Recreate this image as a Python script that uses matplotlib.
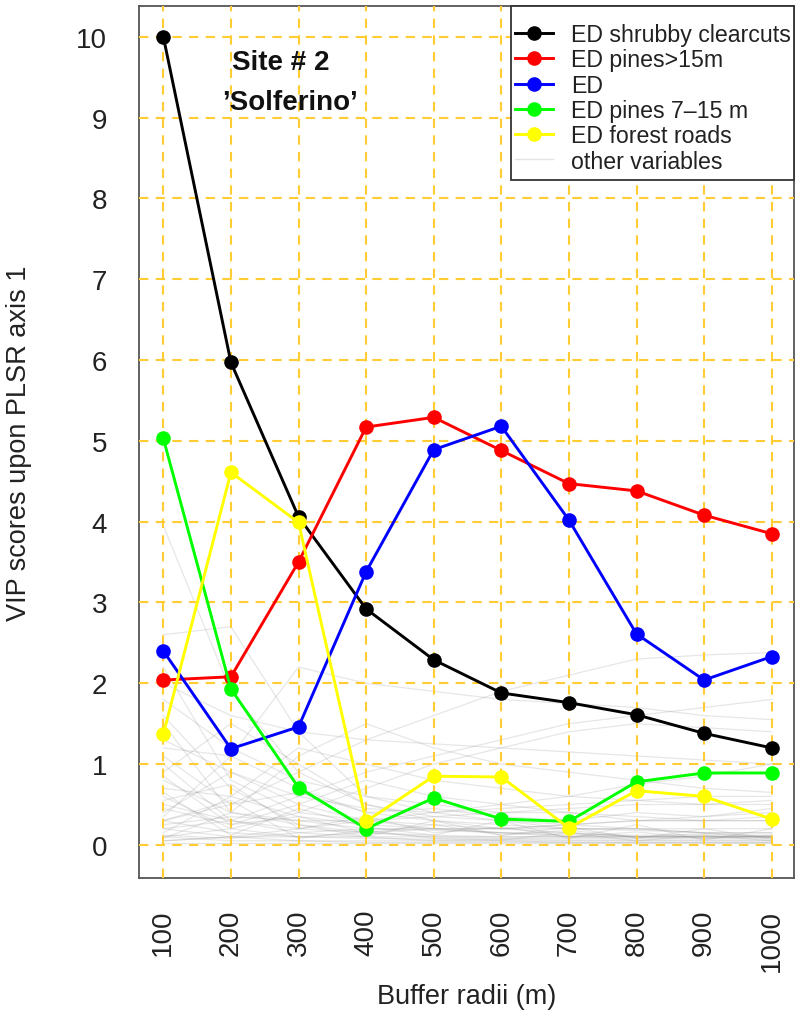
import matplotlib
matplotlib.use("Agg")
import matplotlib.pyplot as plt
from matplotlib.lines import Line2D
from matplotlib.patches import Rectangle

plt.rcParams['font.family'] = ['Liberation Sans', 'DejaVu Sans']

# buffer radii (m)
radii = [100, 200, 300, 400, 500, 600, 700, 800, 900, 1000]

# VIP scores of the highlighted variables
ed_shrubby = [10.0, 5.97, 4.06, 2.92, 2.29, 1.88, 1.76, 1.61, 1.38, 1.20]
ed_pines15 = [2.04, 2.08, 3.50, 5.17, 5.29, 4.88, 4.47, 4.38, 4.08, 3.85]
ed_total = [2.40, 1.19, 1.46, 3.38, 4.89, 5.18, 4.02, 2.61, 2.04, 2.33]
ed_pines7_15 = [5.03, 1.93, 0.71, 0.20, 0.58, 0.32, 0.29, 0.78, 0.89, 0.89]
ed_roads = [1.37, 4.61, 3.99, 0.29, 0.85, 0.84, 0.21, 0.67, 0.60, 0.32]

# VIP scores of the remaining variables (background)
other_vip = [
    [3.95, 1.90, 0.90, 0.50, 0.30, 0.20, 0.15, 0.10, 0.10, 0.10],
    [2.60, 2.70, 1.40, 0.60, 0.40, 0.30, 0.20, 0.20, 0.15, 0.10],
    [1.20, 1.10, 2.20, 2.00, 1.90, 1.80, 1.75, 1.70, 1.60, 1.55],
    [0.30, 0.50, 0.90, 1.30, 1.60, 1.90, 2.10, 2.30, 2.35, 2.38],
    [0.20, 0.30, 0.60, 0.90, 1.10, 1.30, 1.50, 1.60, 1.70, 1.80],
    [1.80, 1.20, 0.80, 0.60, 0.50, 0.40, 0.40, 0.30, 0.30, 0.30],
    [1.50, 0.40, 0.30, 0.20, 0.20, 0.15, 0.10, 0.10, 0.10, 0.10],
    [0.90, 1.50, 1.00, 0.50, 0.35, 0.30, 0.25, 0.20, 0.20, 0.20],
    [0.60, 0.20, 0.10, 0.10, 0.05, 0.05, 0.05, 0.05, 0.05, 0.05],
    [0.40, 0.90, 0.50, 0.30, 0.20, 0.20, 0.25, 0.30, 0.30, 0.35],
    [2.20, 0.80, 0.40, 0.30, 0.25, 0.20, 0.20, 0.20, 0.15, 0.15],
    [0.10, 0.20, 0.40, 0.70, 1.00, 1.20, 1.40, 1.50, 1.45, 1.40],
    [0.05, 0.10, 0.10, 0.15, 0.20, 0.20, 0.25, 0.30, 0.35, 0.40],
    [0.70, 0.60, 0.35, 0.25, 0.20, 0.15, 0.15, 0.10, 0.10, 0.10],
    [1.00, 0.30, 0.15, 0.10, 0.10, 0.10, 0.10, 0.10, 0.10, 0.10],
    [0.15, 0.60, 1.20, 1.00, 0.80, 0.70, 0.60, 0.55, 0.50, 0.50],
    [0.30, 0.15, 0.10, 0.08, 0.07, 0.07, 0.06, 0.06, 0.06, 0.06],
    [1.30, 0.90, 0.60, 0.45, 0.40, 0.45, 0.50, 0.55, 0.60, 0.60],
    [0.50, 0.30, 0.20, 0.15, 0.12, 0.10, 0.10, 0.10, 0.10, 0.10],
    [0.20, 0.10, 0.05, 0.05, 0.05, 0.05, 0.03, 0.03, 0.03, 0.03],
    [0.80, 0.40, 1.10, 1.50, 1.20, 1.00, 0.90, 0.80, 0.70, 0.65],
    [0.10, 0.05, 0.05, 0.03, 0.03, 0.03, 0.03, 0.03, 0.03, 0.03],
    [0.25, 0.35, 0.30, 0.30, 0.35, 0.40, 0.45, 0.50, 0.50, 0.55],
    [2.00, 1.60, 1.40, 1.30, 1.25, 1.20, 1.15, 1.10, 1.05, 1.00],
    [0.05, 0.10, 0.20, 0.30, 0.40, 0.50, 0.60, 0.75, 0.85, 1.00],
    [1.60, 0.70, 0.25, 0.15, 0.10, 0.08, 0.08, 0.08, 0.08, 0.08],
    [0.35, 1.10, 0.70, 0.40, 0.30, 0.25, 0.20, 0.18, 0.15, 0.15],
    [0.12, 0.08, 0.15, 0.20, 0.18, 0.15, 0.12, 0.12, 0.12, 0.12],
    [0.45, 0.25, 0.50, 0.80, 0.60, 0.50, 0.40, 0.35, 0.30, 0.30],
    [0.02, 0.02, 0.02, 0.02, 0.02, 0.02, 0.02, 0.02, 0.02, 0.02],
    [0.85, 0.25, 0.35, 0.15, 0.25, 0.12, 0.18, 0.10, 0.14, 0.09],
    [0.55, 0.75, 0.20, 0.35, 0.15, 0.22, 0.10, 0.16, 0.08, 0.12],
    [0.08, 0.40, 0.25, 0.10, 0.30, 0.12, 0.22, 0.08, 0.20, 0.07],
    [0.65, 0.12, 0.45, 0.22, 0.12, 0.30, 0.08, 0.25, 0.06, 0.20],
    [0.30, 0.55, 0.08, 0.18, 0.08, 0.06, 0.15, 0.05, 0.12, 0.05],
    [1.10, 0.50, 0.65, 0.40, 0.45, 0.35, 0.30, 0.40, 0.35, 0.45],
]

series = [
    ("ED shrubby clearcuts", ed_shrubby, "black"),
    ("ED pines>15m", ed_pines15, "#FF0000"),
    ("ED", ed_total, "#0000FF"),
    ("ED pines 7\u201315 m", ed_pines7_15, "#00FF00"),
    ("ED forest roads", ed_roads, "#FFFF00"),
]

W, H = 796, 1012
fig = plt.figure(figsize=(W / 100, H / 100), dpi=100)
ax = fig.add_axes([0.1746, 0.1314, 0.8229, 0.8617])

for vals in other_vip:
    ax.plot(radii, vals, color="#909090", alpha=0.22, lw=0.9, zorder=1)

ax.grid(True, color="#FFCC33", linestyle=(0, (4.5, 3.5)), linewidth=1.5)
ax.set_axisbelow(False)
for gl in ax.get_xgridlines() + ax.get_ygridlines():
    gl.set_zorder(2)

for name, vals, col in series:
    ax.plot(radii, vals, color=col, lw=2.1, marker="o", markersize=10.5,
            markeredgewidth=0, zorder=3)

ax.set_xlim(64, 1033)
ax.set_ylim(-0.41, 10.38)
ax.set_xticks(radii)
ax.set_yticks(range(0, 11))
ax.tick_params(axis="both", length=0, labelsize=20, colors="#222222")
ax.tick_params(axis="x", pad=22, labelrotation=90)
ax.tick_params(axis="y", pad=23)
for sp in ax.spines.values():
    sp.set_color("#555555")
    sp.set_linewidth(1.3)

ax.set_xlabel("Buffer radii (m)", fontsize=19.5, color="#222222", va="top")
ax.xaxis.set_label_coords(0.5, -0.12)
ax.set_ylabel("VIP scores upon PLSR axis 1", fontsize=19.5, color="#222222")
ax.yaxis.set_label_coords(-0.163, 0.5)

ax.text(274, 9.69, "Site # 2", fontsize=20, fontweight="bold", ha="center",
        va="center", color="#111111")
ax.text(288, 9.19, "\u2019Solferino\u2019", fontsize=20, fontweight="bold",
        ha="center", va="center", color="#111111")

# legend box, drawn by hand so the padding can differ between sides
box = Rectangle((511 / W, 1 - 181 / H), (794 - 511) / W, 174 / H,
                transform=fig.transFigure, facecolor="white", edgecolor="#333333",
                linewidth=1.3, zorder=4, clip_on=False)
ax.add_patch(box)

handles = [Line2D([], [], color=col, lw=2.1, marker="o", markersize=10.5,
                  markeredgewidth=0) for _, _, col in series]
handles.append(Line2D([], [], color="#E4E4E4", lw=1.0))
labels = [name for name, _, _ in series] + ["other variables"]
leg = ax.legend(handles, labels, loc="upper left",
                bbox_to_anchor=(515 / W, 1 - 24 / H), bbox_transform=fig.transFigure,
                borderaxespad=0, fontsize=16.7, labelspacing=0.1, handlelength=1.65,
                handletextpad=0.75, borderpad=0, frameon=False)
leg.set_zorder(5)
for t in leg.get_texts():
    t.set_color("#222222")

fig.savefig("out.png", dpi=100)
